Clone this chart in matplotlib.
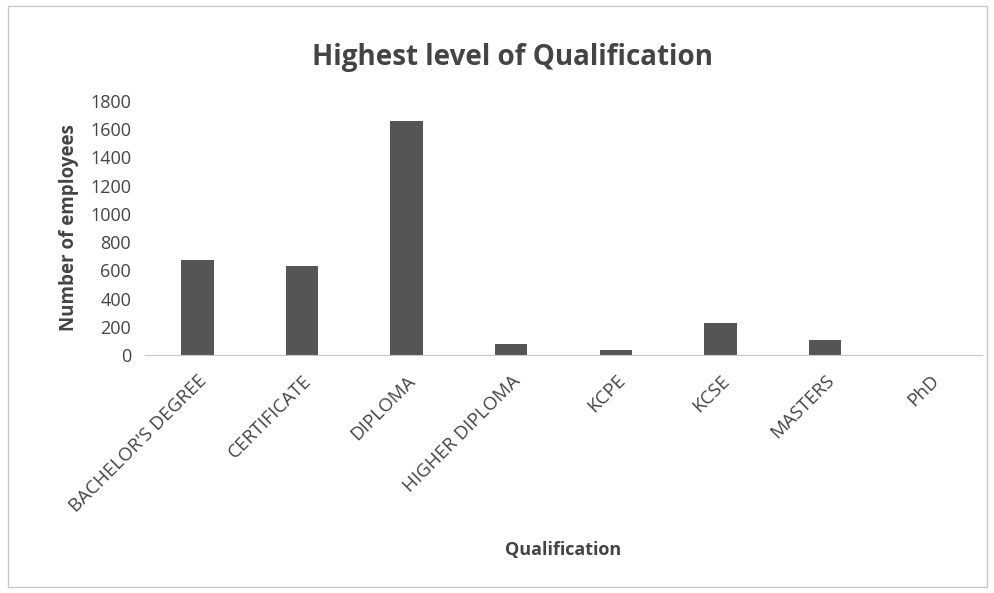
import matplotlib
matplotlib.use("Agg")
import matplotlib.pyplot as plt
from matplotlib.patches import Rectangle

categories = ["BACHELOR'S DEGREE", "CERTIFICATE", "DIPLOMA", "HIGHER DIPLOMA",
              "KCPE", "KCSE", "MASTERS", "PhD"]
values = [670, 630, 1660, 80, 35, 225, 105, 3]
yticks = [0, 200, 400, 600, 800, 1000, 1200, 1400, 1600, 1800]

plt.rcParams['font.family'] = ['Open Sans', 'DejaVu Sans']

fig = plt.figure(figsize=(9.95, 5.93), dpi=100)
fig.patches.append(Rectangle((0.008, 0.01), 0.984, 0.98, transform=fig.transFigure,
                             fill=False, edgecolor='#c8c8c8', linewidth=1))
ax = fig.add_axes([145/995, 1 - 355/593, (982-145)/995, (355-101)/593])

x = list(range(len(categories)))
ax.bar(x, values, width=0.31, color='#555555')
ax.set_xlim(-0.5, len(categories) - 0.5)
ax.set_ylim(0, 1800)
ax.set_yticks(yticks)
ax.set_yticklabels([str(t) for t in yticks], fontsize=13, color='#444444')
ax.set_xticks(x)
ax.set_xticklabels(categories, rotation=45, ha='right', rotation_mode='anchor',
                   fontsize=13.5, color='#444444')
ax.tick_params(axis='x', length=0, pad=12)
ax.tick_params(axis='y', length=0, pad=10)
for s in ['top', 'right', 'left']:
    ax.spines[s].set_visible(False)
ax.spines['bottom'].set_color('#c8c8c8')

ax.set_ylabel("Number of employees", fontsize=13.5, fontweight='bold', color='#444444', labelpad=8)
fig.text(563/995, 1 - 550/593, "Qualification", fontsize=13, fontweight='bold',
         color='#444444', ha='center', va='center')
fig.text(512/995, 1 - 58/593, "Highest level of Qualification", fontsize=20,
         fontweight='bold', color='#444444', ha='center', va='center')

fig.savefig("out.png", dpi=100)
